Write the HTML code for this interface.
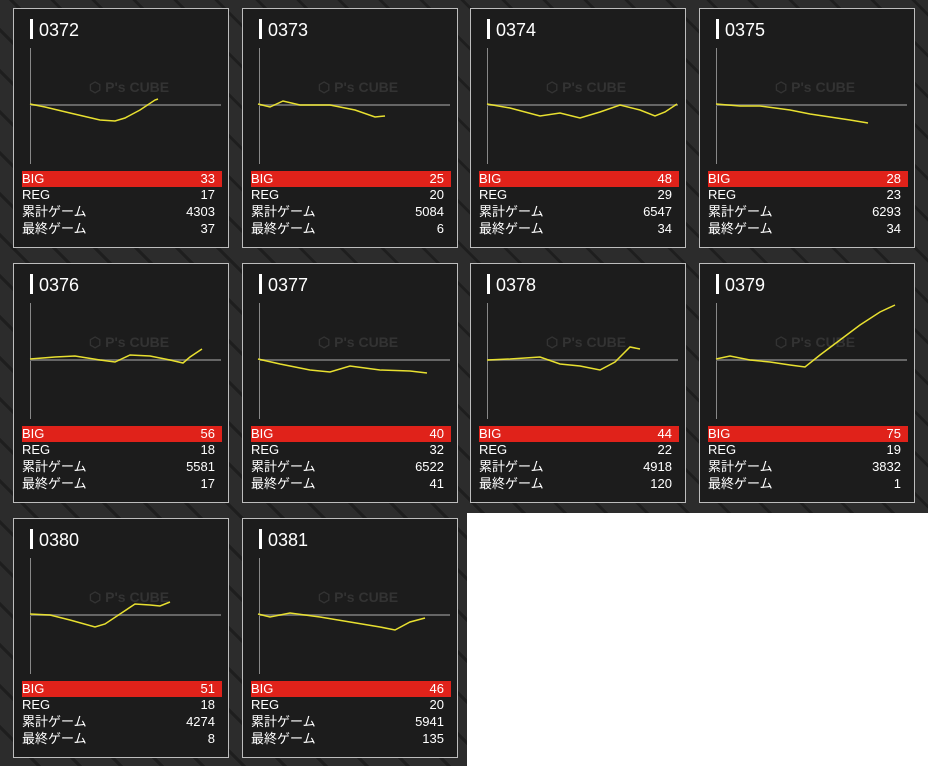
<!DOCTYPE html><html><head><meta charset="utf-8"><style>
body{margin:0;width:928px;height:766px;background:#262626;position:relative;overflow:hidden;font-family:"Liberation Sans","Noto Sans CJK JP",sans-serif;}
.bg{position:absolute;inset:0;background:repeating-linear-gradient(45deg,#2c2c2c 0 26px,#1e1e1e 26px 29px),#262626}
.white{position:absolute;left:467px;top:513px;width:461px;height:253px;background:#fff}
.card{position:absolute;width:214px;height:238px;border:1px solid #bdbdbd;background:#1c1c1c;color:#fff}
.t{position:absolute;left:16px;top:10px;width:3px;height:20px;background:#fff}
.n{position:absolute;left:25px;top:10px;font-size:18px;line-height:22px}
.ax{position:absolute;left:16px;top:39px;width:1px;height:116px;background:#888}
.bl{position:absolute;left:16px;top:95px;width:191px;height:2px;background:#666}
.wm{position:absolute;left:75px;top:70px;font-size:14px;font-weight:bold;color:#333}
.r{position:absolute;left:8px;width:200px;height:16px;font-size:13px;line-height:16px}
.r span{position:absolute;right:7px}
.big{background:#e0221a}
</style></head><body><div class="bg"></div><div class="white"></div>
<script>
var d=[["0372",33,17,4303,37,13,8],["0373",25,20,5084,6,242,8],["0374",48,29,6547,34,470,8],["0375",28,23,6293,34,699,8],["0376",56,18,5581,17,13,263],["0377",40,32,6522,41,242,263],["0378",44,22,4918,120,470,263],["0379",75,19,3832,1,699,263],["0380",51,18,4274,8,13,518],["0381",46,20,5941,135,242,518]];
var h="";d.forEach(function(c){h+='<div class="card" style="left:'+c[5]+'px;top:'+c[6]+'px"><div class="t"></div><div class="n">'+c[0]+'</div><div class="ax"></div><div class="bl"></div><div class="wm">⬡ P\'s CUBE</div><div class="r big" style="top:162px">BIG<span>'+c[1]+'</span></div><div class="r" style="top:178px">REG<span>'+c[2]+'</span></div><div class="r" style="top:195px">累計ゲーム<span>'+c[3]+'</span></div><div class="r" style="top:212px">最終ゲーム<span>'+c[4]+'</span></div></div>';});
document.write(h);
</script>
<svg width="928" height="766" style="position:absolute;left:0;top:0" fill="none" stroke="#e8e030" stroke-width="1.5">
<polyline points="30,104 45,107 70,113 100,120 115,121 125,118 140,110 155,100 158,99"/>
<polyline points="258,104 270,107 283,101 300,105 330,105 355,110 375,117 385,116"/>
<polyline points="487,104 510,108 540,116 560,113 580,118 600,112 620,105 640,110 655,116 665,112 677,104"/>
<polyline points="716,104 740,106 760,106 790,110 810,114 830,117 850,120 868,123"/>
<polyline points="30,359 55,357 75,356 100,360 115,362 130,355 150,356 170,360 183,363 190,357 202,349"/>
<polyline points="258,359 280,364 310,370 330,372 350,366 380,370 410,371 427,373"/>
<polyline points="487,360 510,359 540,357 560,364 580,366 600,370 615,362 630,347 640,349"/>
<polyline points="716,359 730,356 750,360 770,362 790,365 805,367 820,355 840,340 860,325 880,312 895,305"/>
<polyline points="30,614 50,615 70,620 95,627 105,624 120,614 135,604 150,605 160,606 170,602"/>
<polyline points="258,614 270,617 290,613 320,617 350,622 380,627 395,630 410,622 425,618"/>
</svg>
</body></html>
